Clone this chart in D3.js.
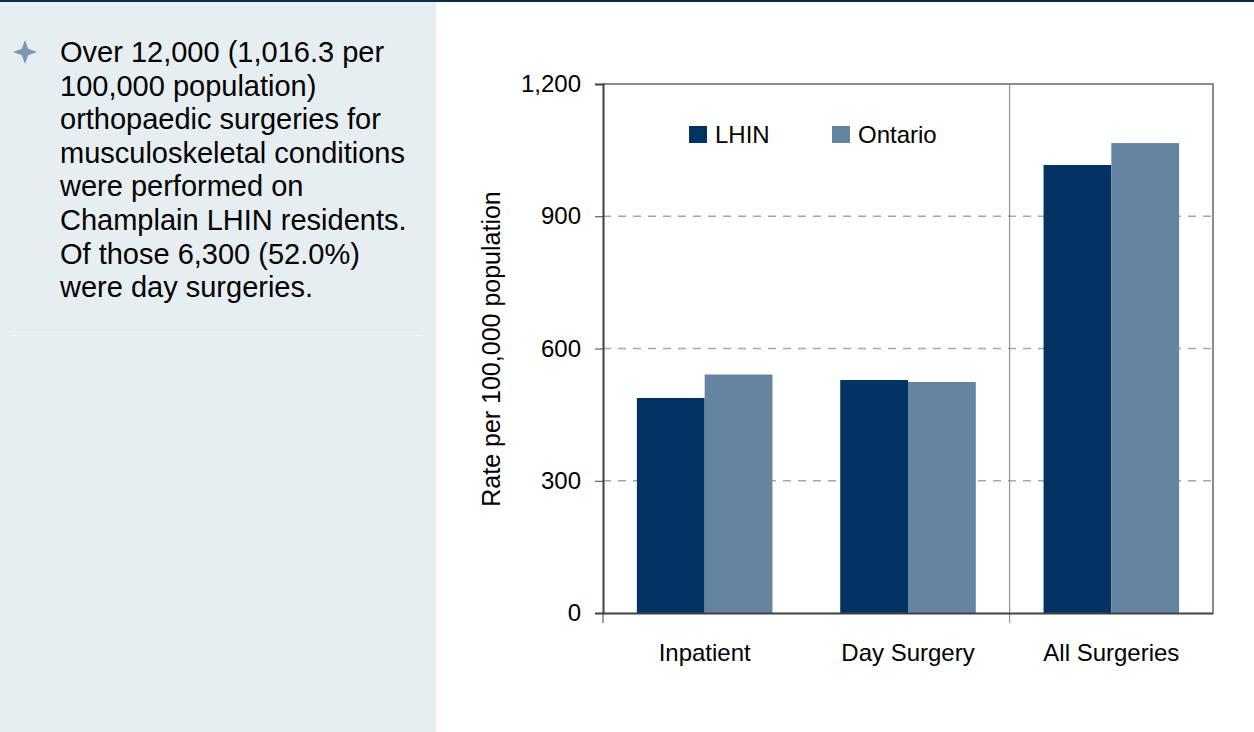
<!DOCTYPE html>
<html>
<head>
<meta charset="utf-8">
<script src="https://cdn.jsdelivr.net/npm/d3@7"></script>
<style>
  html, body { margin: 0; padding: 0; background: #ffffff; }
  svg { display: block; font-family: "Liberation Sans", Arial, sans-serif; }
</style>
</head>
<body>
<svg id="chart" width="1254" height="732"></svg>
<script>
// ---- data ----
const categories = ["Inpatient", "Day Surgery", "All Surgeries"];
const seriesNames = ["LHIN", "Ontario"];
const lhinValues = [487.8, 528.5, 1016.3];
const ontarioValues = [541, 524, 1066];
const yTickValues = [0, 300, 600, 900, 1200];
const yAxisTitle = "Rate per 100,000 population";
const bulletLines = [
  "Over 12,000 (1,016.3 per",
  "100,000 population)",
  "orthopaedic surgeries for",
  "musculoskeletal conditions",
  "were performed on",
  "Champlain LHIN residents.",
  "Of those 6,300 (52.0%)",
  "were day surgeries."
];

(function () {
const colors = { LHIN: "#023363", Ontario: "#6584a1" };
const rows = categories.map((c, i) => ({ category: c, LHIN: lhinValues[i], Ontario: ontarioValues[i] }));

const svg = d3.select("#chart");

// ---- left text panel ----
svg.append("rect").attr("x", 0).attr("y", 0).attr("width", 436).attr("height", 732).attr("fill", "#e6eef2");
svg.append("line").attr("x1", 11).attr("x2", 422).attr("y1", 335.5).attr("y2", 335.5)
  .attr("stroke", "#f0f5f7").attr("stroke-width", 1);
// top dark rule
svg.append("rect").attr("x", 0).attr("y", 0).attr("width", 1254).attr("height", 2).attr("fill", "#10294a");

// bullet star
const sx = 25, sy = 52, so = 12, si = 3.2;
const star = [[sx, sy - so], [sx + si, sy - si], [sx + so, sy], [sx + si, sy + si], [sx, sy + so], [sx - si, sy + si], [sx - so, sy], [sx - si, sy - si]];
svg.append("path").attr("d", d3.line().curve(d3.curveLinearClosed)(star)).attr("fill", "#7f95b1");

svg.append("g").selectAll("text").data(bulletLines).join("text")
  .attr("x", 60)
  .attr("y", (d, i) => 62 + i * 33.6)
  .attr("font-size", 29)
  .attr("fill", "#000")
  .text(d => d);

// ---- chart ----
const pLeft = 603, pRight = 1213, pTop = 84, pBottom = 613;
const y = d3.scaleLinear().domain([0, 1200]).range([pBottom, pTop]);
const x0 = d3.scaleBand().domain(categories).range([pLeft, pRight]).paddingInner(0).paddingOuter(0);
const bw = x0.bandwidth();
const x1 = d3.scaleBand().domain(seriesNames).range([bw / 6, bw * 5 / 6]).padding(0);

// gridlines
svg.append("g").selectAll("line").data(yTickValues.filter(v => v > 0 && v < 1200)).join("line")
  .attr("x1", pLeft).attr("x2", pRight)
  .attr("y1", d => y(d)).attr("y2", d => y(d))
  .attr("stroke", "#a6a6a6").attr("stroke-width", 1.3).attr("stroke-dasharray", "8,7");

// bars
const groups = svg.append("g").selectAll("g").data(rows).join("g")
  .attr("transform", d => `translate(${x0(d.category)},0)`);
groups.selectAll("rect").data(d => seriesNames.map(s => ({ s, v: d[s] }))).join("rect")
  .attr("x", d => x1(d.s))
  .attr("width", x1.bandwidth())
  .attr("y", d => y(d.v))
  .attr("height", d => y(0) - y(d.v))
  .attr("fill", d => colors[d.s]);

// plot frame top/right
svg.append("path")
  .attr("d", `M${pLeft},${pTop}H${pRight}V${pBottom}`)
  .attr("fill", "none").attr("stroke", "#8c8c8c").attr("stroke-width", 2);

// separator before All Surgeries
const sepX = x0("All Surgeries");
svg.append("line").attr("x1", sepX).attr("x2", sepX).attr("y1", pTop).attr("y2", pBottom + 10)
  .attr("stroke", "#808080").attr("stroke-width", 1);

// y axis
const yAxis = svg.append("g").attr("transform", `translate(${pLeft},0)`)
  .call(d3.axisLeft(y).tickValues(yTickValues).tickFormat(d3.format(",")).tickSize(8).tickPadding(14));
yAxis.select(".domain").attr("stroke", "#404040").attr("stroke-width", 2);
yAxis.selectAll(".tick line").attr("stroke", "#404040").attr("stroke-width", 1);
yAxis.selectAll("text").attr("font-size", 24).attr("fill", "#000")
  .attr("font-family", "Liberation Sans, Arial, sans-serif");

// x axis
const xAxis = svg.append("g").attr("transform", `translate(0,${pBottom})`)
  .call(d3.axisBottom(x0).tickSize(0).tickPadding(0));
xAxis.select(".domain").attr("stroke", "#404040").attr("stroke-width", 2);
xAxis.selectAll("text").attr("font-size", 24).attr("fill", "#000").attr("dy", null).attr("y", 48)
  .attr("font-family", "Liberation Sans, Arial, sans-serif");
svg.append("line").attr("x1", pLeft).attr("x2", pLeft).attr("y1", pBottom).attr("y2", pBottom + 10)
  .attr("stroke", "#404040").attr("stroke-width", 1);

// y axis title
svg.append("text")
  .attr("transform", "translate(500,349) rotate(-90)")
  .attr("text-anchor", "middle")
  .attr("font-size", 25)
  .attr("fill", "#000")
  .text(yAxisTitle);

// legend
const legendX = [689, 832];
const legend = svg.append("g").selectAll("g").data(seriesNames).join("g")
  .attr("transform", (d, i) => `translate(${legendX[i]},126)`);
legend.append("rect").attr("width", 18).attr("height", 17).attr("fill", d => colors[d]);
legend.append("text").attr("x", 26).attr("y", 17).attr("font-size", 24).attr("fill", "#000").text(d => d);
})();
</script>
</body>
</html>
